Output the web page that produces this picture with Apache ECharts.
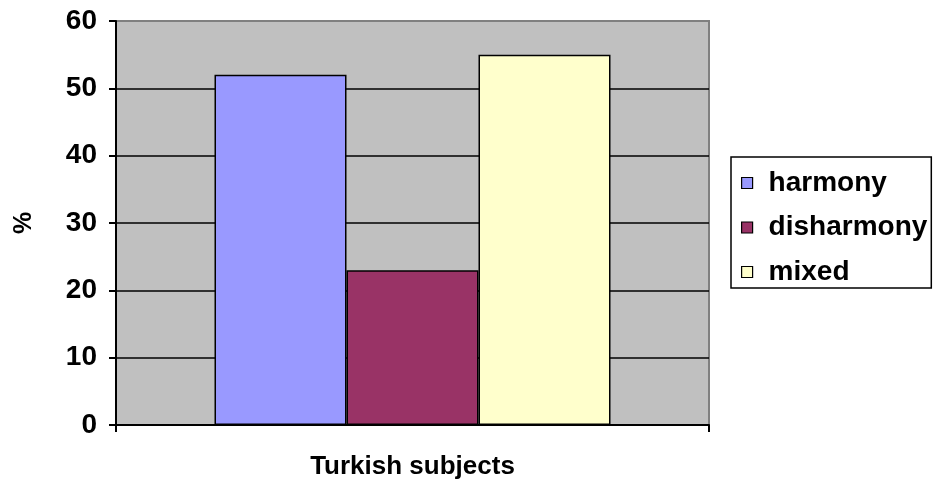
<!DOCTYPE html>
<html>
<head>
<meta charset="utf-8">
<script src="https://cdn.jsdelivr.net/npm/echarts@6/dist/echarts.min.js"></script>
<style>
  html, body { margin: 0; padding: 0; background: #fff; }
  #chart { width: 935px; height: 481px; }
</style>
</head>
<body>
<div id="chart"></div>
<script>
// chart data
const categories = ["Turkish subjects"];
const seriesNames = ["harmony", "disharmony", "mixed"];
const harmonyValues = [52];
const disharmonyValues = [23];
const mixedValues = [55];
const seriesColors = ["#9999FF", "#993366", "#FFFFCC"];

const myChart = echarts.init(document.getElementById("chart"));

const valueLists = [harmonyValues, disharmonyValues, mixedValues];

myChart.setOption({
  animation: false,
  textStyle: { fontFamily: "Liberation Sans, Arial, sans-serif" },
  grid: {
    left: 116,
    top: 21,
    right: 226,
    bottom: 56,
    containLabel: false,
    outerBoundsMode: "none",
    show: true,
    backgroundColor: "#C0C0C0",
    borderColor: "#808080",
    borderWidth: 2,
  },
  legend: {
    orient: "vertical",
    left: 731,
    top: 157,
    width: 203,
    padding: [11, 4, 1, 10],
    itemGap: 14.5,
    itemWidth: 11,
    itemHeight: 11,
    borderColor: "#000",
    borderWidth: 1.5,
    icon: "rect",
    itemStyle: { borderColor: "#000", borderWidth: 1.2 },
    textStyle: {
      fontSize: 28,
      fontWeight: "bold",
      color: "#000",
      lineHeight: 30,
      padding: [0, 0, 0, 11],
    },
    data: seriesNames,
  },
  xAxis: {
    type: "category",
    data: categories,
    name: categories[0],
    nameLocation: "middle",
    nameGap: 29,
    nameTextStyle: { fontSize: 26, fontWeight: "bold", color: "#000" },
    axisLabel: { show: false },
    axisLine: { lineStyle: { color: "#000", width: 2 } },
    axisTick: { show: true, length: 7, lineStyle: { color: "#000", width: 2 } },
  },
  yAxis: {
    type: "value",
    min: 0,
    max: 60,
    interval: 10,
    name: "%",
    nameLocation: "middle",
    nameRotate: 90,
    nameGap: 79,
    nameTextStyle: { fontSize: 25, fontWeight: "bold", color: "#000" },
    axisLine: { show: true, lineStyle: { color: "#000", width: 2 } },
    axisTick: { show: true, length: 7, lineStyle: { color: "#000", width: 2 } },
    axisLabel: { fontSize: 28, fontWeight: "bold", color: "#000", margin: 19 },
    splitLine: {
      show: true,
      lineStyle: {
        color: ["#000", "#000", "#000", "#000", "#000", "#000", "#808080"],
        width: 1.5,
      },
    },
  },
  series: seriesNames.map((name, i) => ({
    name: name,
    type: "bar",
    data: valueLists[i],
    barWidth: 132,
    barGap: "0%",
    itemStyle: { color: seriesColors[i], borderColor: "#000", borderWidth: 1.5 },
  })),
});
</script>
</body>
</html>
